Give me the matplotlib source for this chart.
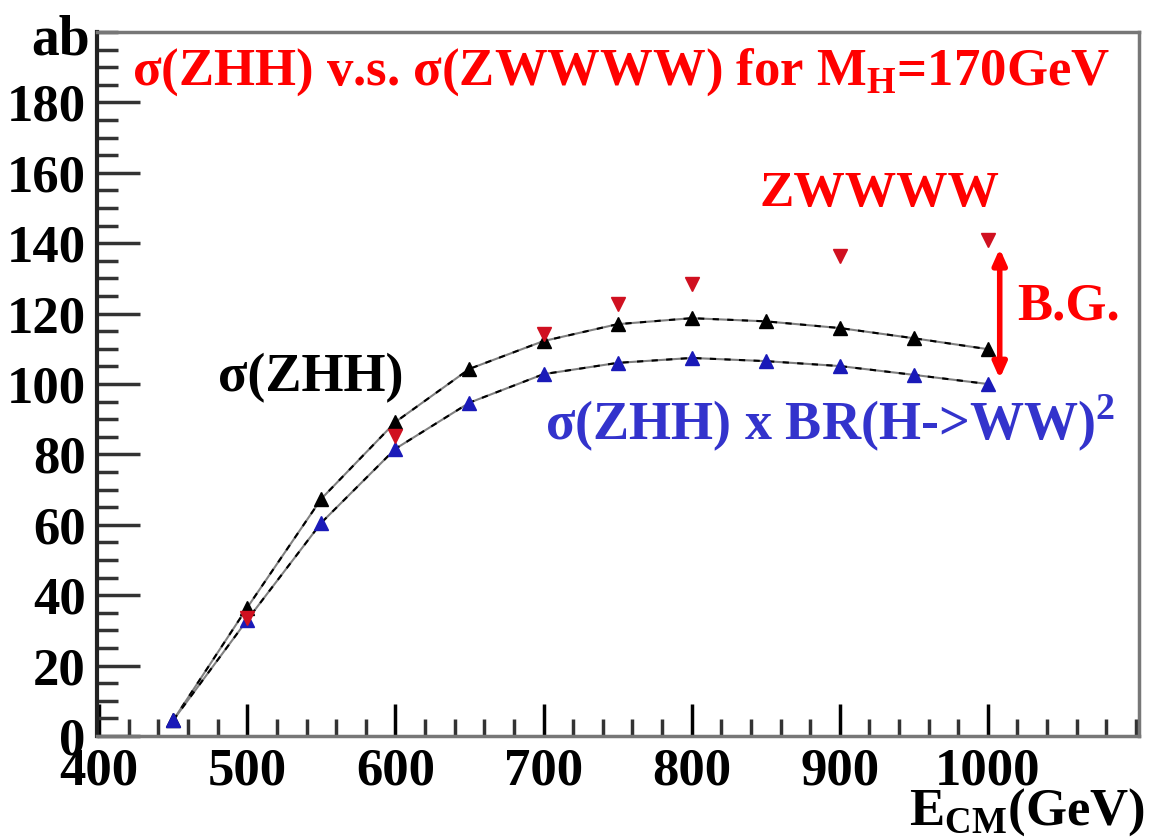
import numpy as np
import matplotlib
matplotlib.use("Agg")
import matplotlib.pyplot as plt
from matplotlib.ticker import MultipleLocator

plt.rcParams['font.family'] = ['Liberation Serif', 'DejaVu Serif']
plt.rcParams['font.weight'] = 'bold'
plt.rcParams['mathtext.fontset'] = 'custom'
plt.rcParams['mathtext.rm'] = 'Liberation Serif:bold'
plt.rcParams['mathtext.bf'] = 'Liberation Serif:bold'

# E_CM (GeV)
ecm = [450, 500, 550, 600, 650, 700, 750, 800, 850, 900, 950, 1000]
# sigma(ZHH) in ab
zhh = [4.5, 36.5, 67.4, 89.2, 104.3, 112.2, 117.0, 118.7, 117.8, 115.9, 113.0, 109.9]
# sigma(ZHH) x BR(H->WW)^2
zhh_br = [4.5, 33.0, 60.6, 81.6, 94.7, 102.8, 106.0, 107.4, 106.5, 105.1, 102.6, 100.0]
# sigma(ZWWWW) background
bg_e = [500, 600, 700, 750, 800, 900, 1000]
bg = [33.6, 85.3, 114.2, 122.7, 128.3, 136.3, 140.8]

fig = plt.figure(figsize=(11.57, 8.4), dpi=100)
ax = fig.add_axes([0.0838, 0.1238, 0.9006, 0.8381])

# lines look like alternating black / gray dashes in the original
ax.plot(ecm, zhh, color='gray', lw=1.5, zorder=2)
ax.plot(ecm, zhh, color='black', lw=1.5, dashes=(3, 4), zorder=2)
ax.plot(ecm, zhh_br, color='gray', lw=1.5, zorder=2)
ax.plot(ecm, zhh_br, color='black', lw=1.5, dashes=(3, 4), zorder=2)

ax.plot(ecm, zhh, ls='none', marker='^', ms=10, color='black', zorder=3)
ax.plot(ecm, zhh_br, ls='none', marker='^', ms=10, color='#1a1ab8', zorder=3)
ax.plot(bg_e, bg, ls='none', marker='v', ms=10, color='#d01020', zorder=4)

ax.annotate('', xy=(1008, 101.5), xytext=(1008, 138.5),
            arrowprops=dict(arrowstyle='<|-|>,head_length=0.9,head_width=0.4',
                            color='red', lw=4, shrinkA=0, shrinkB=0))

ax.set_xlim(398.5, 1102)
ax.set_ylim(0, 200)
ax.set_xticks(np.arange(400, 1001, 100))
ax.xaxis.set_minor_locator(MultipleLocator(20))
ax.set_yticks(np.arange(0, 181, 20))
ax.yaxis.set_minor_locator(MultipleLocator(5))
ax.tick_params(which='both', direction='in', top=False, right=False,
               labelsize=38, color='#333333', width=2.5)
ax.tick_params(axis='x', which='major', length=23, pad=8, color='black')
ax.tick_params(axis='x', which='minor', length=12)
ax.tick_params(axis='y', which='major', length=31, pad=8)
ax.tick_params(axis='y', which='minor', length=15)
for lab in ax.get_xticklabels() + ax.get_yticklabels():
    lab.set_fontweight('bold')

for s in ['top', 'right', 'bottom']:
    ax.spines[s].set_color('#777777')
    ax.spines[s].set_linewidth(2.5)
ax.spines['left'].set_color('#222222')
ax.spines['left'].set_linewidth(3)

fig.text(0.052, 0.952, 'ab', fontsize=40, fontweight='bold', ha='center', va='center')
fig.text(0.99, 0.033, r'E$_\mathrm{CM}$(GeV)', fontsize=38, fontweight='bold',
         ha='right', va='center')

ax.text(422, 188.5, r'σ(ZHH) v.s. σ(ZWWWW) for M$_\mathrm{H}$=170GeV',
        fontsize=38, color='red', fontweight='bold', ha='left', va='center')
ax.text(927, 154, 'ZWWWW', fontsize=37, color='red', fontweight='bold', ha='center', va='center')
ax.text(1019.5, 122, 'B.G.', fontsize=38, color='red', fontweight='bold', ha='left', va='center')
ax.text(480, 101.5, 'σ(ZHH)', fontsize=39, color='black', fontweight='bold', ha='left', va='center')
ax.text(1086, 89, 'σ(ZHH) x BR(H->WW)$^2$', fontsize=39, color='#3333cc',
        fontweight='bold', ha='right', va='center')

fig.savefig('out.png', dpi=100)
